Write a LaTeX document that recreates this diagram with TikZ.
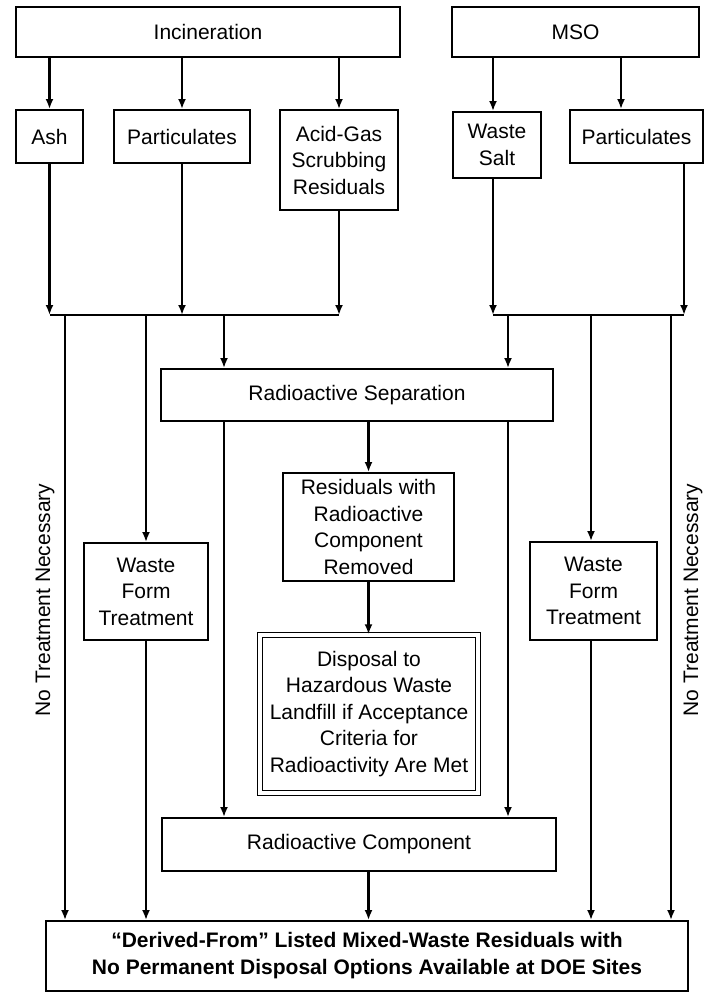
\documentclass[tikz,border=0pt]{standalone}
\usepackage{fontspec}
\setmainfont{Liberation Sans}
\usetikzlibrary{arrows.meta}
\begin{document}
\begin{tikzpicture}[x=1pt,y=-1pt,
  box/.style={draw, line width=1.9pt, inner sep=0pt, align=center,
    font=\fontsize{21}{26.5}\selectfont},
  dbox/.style={box, double, line width=1.4pt, double distance=3.6pt},
  arr/.style={line width=2.5pt, -{Latex[length=10pt,width=8pt]}},
  ln/.style={line width=2.5pt},
  side/.style={rotate=90, font=\fontsize{21}{24}\selectfont}]
\useasboundingbox (0,0) rectangle (708,992);
% top row
\node[box, minimum width=384pt, minimum height=50pt] (inc) at (208,32) {Incineration};
\node[box, minimum width=247pt, minimum height=50pt] (mso) at (575.5,32) {MSO};
% second row
\node[box, minimum width=67pt, minimum height=53pt] (ash) at (49.5,136.5) {Ash};
\node[box, minimum width=136pt, minimum height=53pt] (partL) at (182,136.5) {Particulates};
\node[box, minimum width=118pt, minimum height=100pt] (acid) at (339,160) {Acid-Gas\\Scrubbing\\Residuals};
\node[box, minimum width=88pt, minimum height=66pt] (salt) at (497,145) {Waste\\Salt};
\node[box, minimum width=133pt, minimum height=53pt] (partR) at (636.5,136.5) {Particulates};
% middle
\node[box, minimum width=392pt, minimum height=52pt] (radsep) at (357,395) {Radioactive Separation};
\node[box, minimum width=171pt, minimum height=108pt] (resid) at (368.5,527) {Residuals with\\Radioactive\\Component\\Removed};
\node[dbox, minimum width=218pt, minimum height=158pt] (disp) at (369,714) {Disposal to\\Hazardous Waste\\Landfill if Acceptance\\Criteria for\\Radioactivity Are Met};
\node[box, minimum width=124pt, minimum height=97pt] (wftL) at (146,591.5) {Waste\\Form\\Treatment};
\node[box, minimum width=127pt, minimum height=98pt] (wftR) at (593.5,591) {Waste\\Form\\Treatment};
\node[box, minimum width=394pt, minimum height=53pt] (radcomp) at (359,844.5) {Radioactive Component};
\node[box, minimum width=642pt, minimum height=70pt, font=\bfseries\fontsize{21}{27}\selectfont] (bot) at (367,956) {``Derived-From'' Listed Mixed-Waste Residuals with\\No Permanent Disposal Options Available at DOE Sites};
% side labels
\node[side] (ntL) at (45,600) {No Treatment Necessary};
\node[side] (ntR) at (693,600) {No Treatment Necessary};
% coordinates
\coordinate (jy) at (0,315);
\coordinate (xMs) at (493,0);
\coordinate (xMp) at (621,0);
\coordinate (xPr) at (684,0);
\coordinate (xL1) at (65,0);
\coordinate (xL2) at (146,0);
\coordinate (xL3) at (224,0);
\coordinate (xR1) at (508,0);
\coordinate (xR2) at (591,0);
\coordinate (xR3) at (671,0);
\coordinate (xC) at (368.5,0);
% top arrows
\draw[arr] (ash.north |- inc.south) -- (ash.north);
\draw[arr] (partL.north |- inc.south) -- (partL.north);
\draw[arr] (acid.north |- inc.south) -- (acid.north);
\draw[arr] (xMs |- mso.south) -- (xMs |- salt.north);
\draw[arr] (xMp |- mso.south) -- (xMp |- partR.north);
% to junctions
\draw[arr] (ash.south) -- (ash.south |- jy);
\draw[arr] (partL.south) -- (partL.south |- jy);
\draw[arr] (acid.south) -- (acid.south |- jy);
\draw[ln] (ash.south |- jy) -- (acid.south |- jy);
\draw[arr] (xMs |- salt.south) -- (xMs |- jy);
\draw[arr] (xPr |- partR.south) -- (xPr |- jy);
\draw[ln] (xMs |- jy) -- (xPr |- jy);
% from junctions
\draw[arr] (xL1 |- jy) -- (xL1 |- bot.north);
\draw[arr] (xL2 |- jy) -- (xL2 |- wftL.north);
\draw[arr] (xL3 |- jy) -- (xL3 |- radsep.north);
\draw[arr] (xR1 |- jy) -- (xR1 |- radsep.north);
\draw[arr] (xR2 |- jy) -- (xR2 |- wftR.north);
\draw[arr] (xR3 |- jy) -- (xR3 |- bot.north);
% waste form to bottom
\draw[arr] (xL2 |- wftL.south) -- (xL2 |- bot.north);
\draw[arr] (xR2 |- wftR.south) -- (xR2 |- bot.north);
% radioactive separation
\draw[arr] (xL3 |- radsep.south) -- (xL3 |- radcomp.north);
\draw[arr] (xR1 |- radsep.south) -- (xR1 |- radcomp.north);
\draw[arr] (xC |- radsep.south) -- (xC |- resid.north);
\draw[arr] (xC |- resid.south) -- (xC |- disp.north);
\draw[arr] (xC |- radcomp.south) -- (xC |- bot.north);
\end{tikzpicture}
\end{document}
